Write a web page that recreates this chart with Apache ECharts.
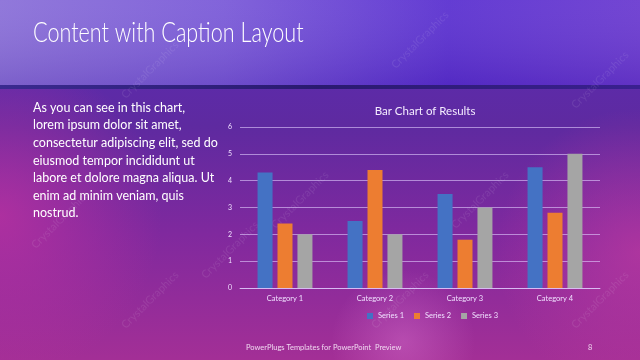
<!DOCTYPE html>
<html>
<head>
<meta charset="utf-8">
<script src="https://cdn.jsdelivr.net/npm/echarts@6/dist/echarts.min.js"></script>
<style>html,body{margin:0;padding:0;}#c{width:640px;height:360px;}</style>
</head>
<body>
<div id="c"></div>
<script>
const categories = ['Category 1', 'Category 2', 'Category 3', 'Category 4'];
const series1 = [4.3, 2.5, 3.5, 4.5];
const series2 = [2.4, 4.4, 1.8, 2.8];
const series3 = [2, 2, 3, 5];
const seriesNames = ['Series 1', 'Series 2', 'Series 3'];
const yTicks = [0, 1, 2, 3, 4, 5, 6];

const chart = echarts.init(document.getElementById('c'));
const F = 'Lato, "Open Sans", sans-serif';
const G = echarts.graphic;
const wm = [];
[[150,70],[420,40],[600,80],[60,220],[300,200],[480,200],[600,300],[400,300],[230,250],[150,300]].forEach(p=>{
  wm.push({type:'text', x:p[0], y:p[1], rotation:Math.PI/4, silent:true,
    style:{text:'CrystalGraphics', fill:'rgba(255,255,255,0.09)', font:'11px '+F, align:'center', verticalAlign:'middle'}});
});
chart.setOption({
  backgroundColor: '#7a2fa8',
  graphic: [
    {type:'rect', shape:{x:0,y:0,width:640,height:360}, silent:true,
     style:{fill:new G.LinearGradient(0,0,0,1,[
       {offset:0,color:'#5a2cb8'},{offset:0.35,color:'#5e2aa0'},{offset:0.65,color:'#80299e'},{offset:1,color:'#a32f96'}])}},
    {type:'rect', shape:{x:0,y:0,width:640,height:360}, silent:true,
     style:{fill:new G.RadialGradient(0,0.6,0.45,[
       {offset:0,color:'rgba(190,50,160,0.75)'},{offset:1,color:'rgba(190,50,160,0)'}])}},
    {type:'rect', shape:{x:0,y:0,width:640,height:360}, silent:true,
     style:{fill:new G.RadialGradient(1,0.7,0.4,[
       {offset:0,color:'rgba(200,60,160,0.6)'},{offset:1,color:'rgba(200,60,160,0)'}])}},
    {type:'rect', shape:{x:0,y:0,width:640,height:360}, silent:true,
     style:{fill:new G.RadialGradient(0.63,0.95,0.2,[
       {offset:0,color:'rgba(230,130,220,0.35)'},{offset:1,color:'rgba(230,130,220,0)'}])}},
    {type:'rect', shape:{x:0,y:0,width:640,height:86}, silent:true,
     style:{fill:new G.LinearGradient(0,0,1,0,[
       {offset:0,color:'#8a70d8'},{offset:0.35,color:'#7a5ad8'},{offset:0.7,color:'#5a30d0'},{offset:1,color:'#6a3ad0'}])}},
    {type:'rect', shape:{x:0,y:0,width:640,height:86}, silent:true,
     style:{fill:new G.LinearGradient(0,0,0,1,[
       {offset:0,color:'rgba(255,255,255,0.06)'},{offset:1,color:'rgba(40,0,120,0.15)'}])}},
    {type:'rect', shape:{x:0,y:85,width:640,height:4}, silent:true,
     style:{fill:new G.LinearGradient(0,0,1,0,[
       {offset:0,color:'#3a2a90'},{offset:0.5,color:'#2a1a70'},{offset:1,color:'#3a2090'}])}},
    ...wm,
    {type:'text', x:33, y:20, scaleX:0.8, silent:true,
     style:{text:'Content with Caption Layout', fill:'#ffffff', font:'300 27px '+F}},
    {type:'text', left:33, top:99, silent:true,
     style:{text:'As you can see in this chart,\nlorem ipsum dolor sit amet,\nconsectetur adipiscing elit, sed do\neiusmod tempor incididunt ut\nlabore et dolore magna aliqua. Ut\nenim ad minim veniam, quis\nnostrud.',
       fill:'#ffffff', font:'12.5px '+F, lineHeight:17.6}},
    {type:'text', left:246, top:344, silent:true,
     style:{text:'PowerPlugs Templates for PowerPoint  Preview', fill:'#f0d8f0', font:'7.5px '+F}},
    {type:'text', left:588, top:344, silent:true,
     style:{text:'8', fill:'#f0d8f0', font:'7.5px '+F}}
  ],
  title: {text:'Bar Chart of Results', left:420, top:100, textAlign:'center',
    textStyle:{color:'#f4ecff', fontFamily:F, fontSize:11.5, fontWeight:'normal'}},
  legend: {data:seriesNames, top:307, left:362, itemWidth:6, itemHeight:6, itemGap:10,
    icon:'rect', textStyle:{color:'#f0e0ff', fontFamily:F, fontSize:7.5}},
  grid: {left:240, right:40, top:127, bottom:72},
  xAxis: {type:'category', data:categories,
    axisLine:{lineStyle:{color:'rgba(225,205,255,0.7)'}}, axisTick:{show:false},
    axisLabel:{color:'#f0e0ff', fontFamily:F, fontSize:7.5, margin:7}},
  yAxis: {type:'value', min:0, max:6, interval:1,
    axisLine:{show:false}, axisTick:{show:false},
    splitLine:{lineStyle:{color:'rgba(225,205,255,0.6)'}},
    axisLabel:{color:'#f0e0ff', fontFamily:F, fontSize:7, margin:8,
      formatter:v=>yTicks.includes(v)?String(v):''}},
  series: [
    {name:seriesNames[0], type:'bar', data:series1, barWidth:15, barGap:'33%', itemStyle:{color:'#4472c4'}},
    {name:seriesNames[1], type:'bar', data:series2, barWidth:15, barGap:'33%', itemStyle:{color:'#ed7d31'}},
    {name:seriesNames[2], type:'bar', data:series3, barWidth:15, barGap:'33%', itemStyle:{color:'#a5a5a5'}}
  ]
});
</script>
</body>
</html>
